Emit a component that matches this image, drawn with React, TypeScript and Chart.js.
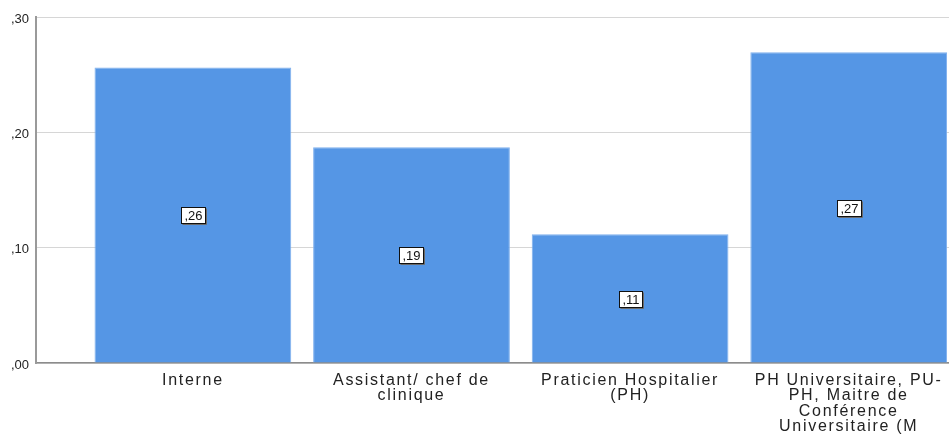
import React, { useEffect, useRef } from "react";
import { Chart, registerables } from "chart.js";

Chart.register(...registerables);

const categoryLabels: string[][] = [
  ["Interne"],
  ["Assistant/ chef de", "clinique"],
  ["Praticien Hospitalier", "(PH)"],
  ["PH Universitaire, PU-", "PH, Maitre de", "Conférence", "Universitaire (M"],
];
const categoryPositions: number[] = [1, 2, 3, 4];
const values: number[] = [0.2562, 0.1871, 0.1116, 0.2695];
const yTicks: number[] = [0, 0.1, 0.2, 0.3];
const yTickLabels: string[] = [",00", ",10", ",20", ",30"];

const fmt = (v: number) => v.toFixed(2).replace(/^0/, "").replace(".", ",");

const FONT = "'Liberation Sans', Arial, sans-serif";

const labelPlugin = {
  id: "valueBoxes",
  afterDatasetsDraw(chart: any) {
    const ctx = chart.ctx as CanvasRenderingContext2D;
    const meta = chart.getDatasetMeta(0);
    const yScale = chart.scales.y;
    ctx.save();
    (ctx as any).letterSpacing = "0px";
    ctx.font = `13px ${FONT}`;
    meta.data.forEach((bar: any, i: number) => {
      const text = fmt(values[i]);
      const cx = bar.x;
      const cy = (bar.y + yScale.getPixelForValue(0)) / 2;
      const w = Math.round(ctx.measureText(text).width) + 6;
      const h = 16;
      const left = Math.round(cx - w / 2) + 0.5;
      const top = Math.round(cy - h / 2) + 0.5;
      ctx.fillStyle = "#ffffff";
      ctx.fillRect(left, top, w, h);
      ctx.strokeStyle = "#6a6a6a";
      ctx.lineWidth = 1;
      ctx.beginPath();
      ctx.moveTo(left + w + 1, top + 1);
      ctx.lineTo(left + w + 1, top + h + 1);
      ctx.lineTo(left + 1, top + h + 1);
      ctx.stroke();
      ctx.strokeStyle = "#111111";
      ctx.strokeRect(left, top, w, h);
      ctx.fillStyle = "#111111";
      ctx.textAlign = "center";
      ctx.textBaseline = "middle";
      ctx.fillText(text, left + w / 2, top + h / 2 + 1);
    });
    ctx.restore();
  },
};

const spacingPlugin = {
  id: "labelTweaks",
  beforeDraw(chart: any) {
    const x: any = chart.scales.x;
    if (x && !x.__wrapped) {
      const orig = x.drawLabels.bind(x);
      x.drawLabels = (area: any) => {
        const ctx: any = chart.ctx;
        const prev = ctx.letterSpacing;
        ctx.letterSpacing = "1.7px";
        orig(area);
        ctx.letterSpacing = prev;
      };
      x.__wrapped = true;
    }
    const y: any = chart.scales.y;
    if (y && !y.__wrapped) {
      const origY = y.drawLabels.bind(y);
      y.drawLabels = (area: any) => {
        const ctx: any = chart.ctx;
        ctx.save();
        ctx.translate(0, 2);
        origY(area);
        ctx.restore();
      };
      y.__wrapped = true;
    }
  },
};

export default function App() {
  const ref = useRef<HTMLCanvasElement | null>(null);

  useEffect(() => {
    if (!ref.current) return;
    const chart = new Chart(ref.current, {
      type: "bar",
      data: {
        datasets: [
          {
            data: categoryPositions.map((p, i) => ({ x: p, y: values[i] })),
            backgroundColor: "#5596e5",
            borderColor: "#7fb0ee",
            borderWidth: 1,
            categoryPercentage: 1,
            barPercentage: 0.9,
          },
        ],
      },
      options: {
        animation: false,
        responsive: false,
        layout: { padding: { top: 17, left: 0, right: 0, bottom: 0 } },
        plugins: {
          legend: { display: false },
          tooltip: { enabled: false },
        },
        scales: {
          x: {
            type: "linear",
            offset: false,
            bounds: "data",
            min: 0.2823,
            max: 4.4588,
            grid: { display: false, drawTicks: false, offset: false },
            border: { display: true, color: "#8c8c8c", width: 1.5 },
            afterBuildTicks: (scale: any) => {
              scale.ticks = categoryPositions.map((v) => ({ value: v }));
            },
            afterFit: (scale: any) => {
              scale.height = 72;
            },
            ticks: {
              autoSkip: false,
              maxRotation: 0,
              minRotation: 0,
              padding: 10,
              color: "#222222",
              font: { family: FONT, size: 16, lineHeight: "15.3px" },
              callback: (v: any) => {
                const idx = categoryPositions.indexOf(Number(v));
                return idx >= 0 ? categoryLabels[idx] : "";
              },
            },
          },
          y: {
            min: 0,
            max: 0.3,
            grid: { color: "#d6d6d6", lineWidth: 1, drawTicks: false },
            border: { display: true, color: "#9a9a9a", width: 2 },
            afterBuildTicks: (scale: any) => {
              scale.ticks = yTicks.map((v) => ({ value: v }));
            },
            afterFit: (scale: any) => {
              scale.width = 36;
            },
            ticks: {
              padding: 7,
              color: "#222222",
              font: { family: FONT, size: 13 },
              callback: (v: any) => {
                const idx = yTicks.findIndex((t) => Math.abs(t - Number(v)) < 1e-6);
                return idx >= 0 ? yTickLabels[idx] : "";
              },
            },
          },
        },
      },
      plugins: [labelPlugin, spacingPlugin],
    } as any);
    return () => chart.destroy();
  }, []);

  return (
    <div style={{ position: "absolute", left: 0, top: 0, width: 949, height: 435, background: "#ffffff" }}>
      <canvas ref={ref} width={949} height={435} style={{ display: "block" }} />
    </div>
  );
}
